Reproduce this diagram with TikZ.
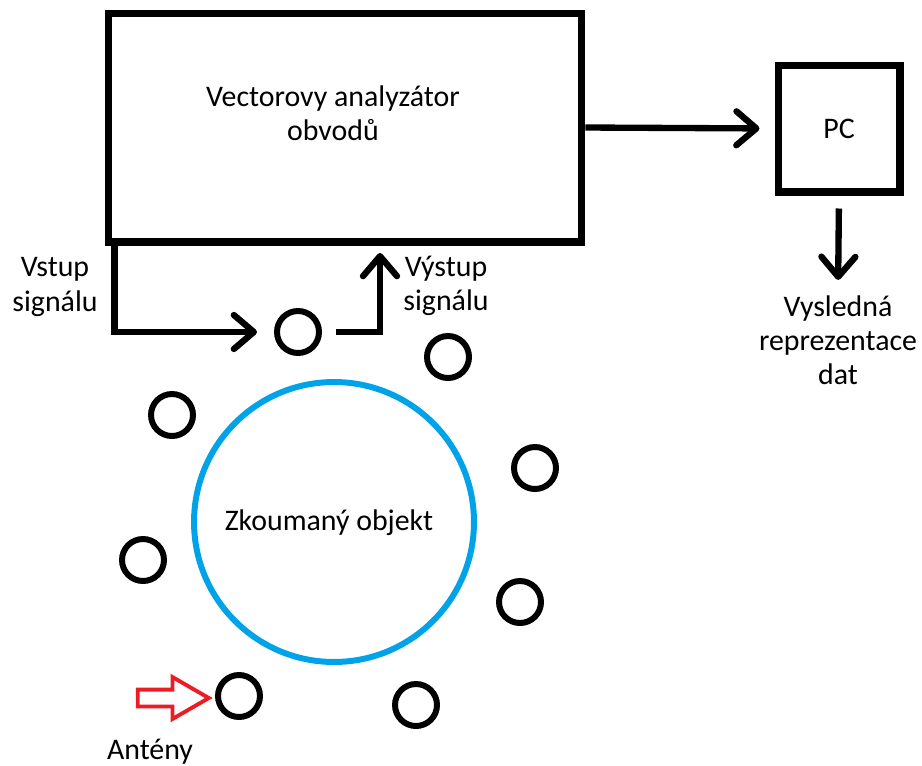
\documentclass[tikz,border=0pt]{standalone}
\usepackage{fontspec}
\setmainfont{Carlito}
\usepackage{tikz}
\usetikzlibrary{arrows.meta, shapes.arrows}
\definecolor{paintblue}{HTML}{00A2E8}
\definecolor{paintred}{HTML}{ED1C24}
\tikzset{
    every node/.style={font=\fontsize{17}{19.5}\selectfont},
    block/.style={draw, line width=4pt, inner sep=0pt},
    antenna/.style={circle, draw, line width=3.4pt, minimum size=0.84cm, inner sep=0pt},
    conn/.style={
        -{Straight Barb[length=0.4cm, width=0.68cm, round]},
        line width=3.6pt
    },
    lbl/.style={align=center, inner sep=0pt}
}

\begin{document}
\begin{tikzpicture}[x=0.02cm, y=-0.02cm]
        \useasboundingbox (0,0) rectangle (922,765);
        \node[block, minimum width=9.48cm, minimum height=4.58cm] (vna) at (345,127.5) {};
        \node[lbl] (vnatext) at (333,113) {Vectorovy analyzátor\\obvodů};
        \node[block, minimum width=2.44cm, minimum height=2.54cm] (pc) at (839,128.5) {PC};
        \node[lbl] (result) at (838,340) {Vysledná\\reprezentace\\dat};

        \node[circle, draw=paintblue, line width=3.4pt, minimum size=5.6cm, inner sep=0pt] (obj) at (334,522) {};
        \node[lbl] (objtext) at (329,523) {Zkoumaný objekt};

        \node[antenna] (ant0) at (298,332) {};
        \node[antenna] (ant1) at (448,357) {};
        \node[antenna] (ant2) at (535,468) {};
        \node[antenna] (ant3) at (520,602) {};
        \node[antenna] (ant4) at (416,705) {};
        \node[antenna] (ant5) at (239,696) {};
        \node[antenna] (ant6) at (143,560) {};
        \node[antenna] (ant7) at (172,415) {};

        \node[lbl] (vstup) at (55,287) {Vstup\\signálu};
        \node[lbl] (vystup) at (446,286) {Výstup\\signálu};
        \node[lbl] (anteny) at (150,752) {Antény};
        \node[single arrow, draw=paintred, line width=2.2pt, fill=white, minimum height=1.42cm,
            inner xsep=0pt, inner ysep=0.13cm, single arrow head extend=0.25cm,
            single arrow tip angle=60] (pointer) at (166,698) {};

        \coordinate (outtip) at (380,253);
        \draw[conn, shorten >=0.3cm] (vna.east) -- (pc.west);
        \draw[conn, shorten <=0.26cm, shorten >=0.3cm] (pc.south) -- (result.north);
        \draw[conn, shorten >=0.34cm] ([xshift=0.2cm]vna.south west) |- (ant0.west);
        \draw[conn] ([xshift=0.28cm]ant0.east) -| (outtip);
\end{tikzpicture}
\end{document}
